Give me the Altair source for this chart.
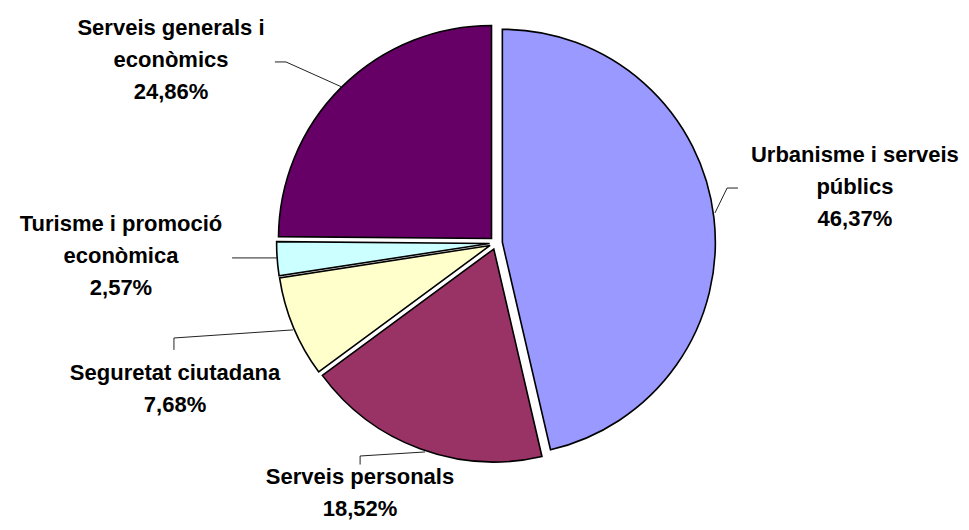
import math
import altair as alt
import pandas as pd

# ---------------- data ----------------
categories = [
    "Urbanisme i serveis públics",
    "Serveis personals",
    "Seguretat ciutadana",
    "Turisme i promoció econòmica",
    "Serveis generals i econòmics",
]
label_names = [
    "Urbanisme i serveis\npúblics",
    "Serveis personals",
    "Seguretat ciutadana",
    "Turisme i promoció\neconòmica",
    "Serveis generals i\neconòmics",
]
shares = [46.37, 18.52, 7.68, 2.57, 24.86]
colors = ["#9999FF", "#993366", "#FFFFCC", "#CCFFFF", "#660066"]

# ---------------- layout (units of pie radius, origin = pie centre, y up) ----------------
W, H = 953, 514          # plot size in px
R = 213                  # pie radius in px
CX, CY = 488, 235        # pie centre in px inside the plot
EXPLODE = 0.03           # slice explosion, in radius units
label_u = [1.685, -0.6385, -1.507, -1.7606, -1.5258]
label_v = [0.3803, -1.1315, -0.6432, 0.0563, 0.9765]
leader_u = [
    [1.136, 1.085, 1.028],
    [-0.638, -0.638, -0.333],
    [-1.512, -1.512, -0.953],
    [-1.239, -1.028],
    [-1.038, -0.986, -0.723],
]
leader_v = [
    [0.258, 0.258, 0.141],
    [-1.040, -1.0, -0.981],
    [-0.502, -0.446, -0.408],
    [-0.070, -0.070],
    [0.850, 0.850, 0.732],
]

df = pd.DataFrame({
    "category": categories,
    "name": label_names,
    "value": shares,
    "order": list(range(len(categories))),
    "lu": label_u,
    "lv": label_v,
})

rows = []
for c, us, vs in zip(categories, leader_u, leader_v):
    for i, (u, v) in enumerate(zip(us, vs)):
        rows.append({"category": c, "i": i, "u": u, "v": v})
leaders = pd.DataFrame(rows)

xs = alt.Scale(domain=[-CX / R, (W - CX) / R], nice=False, zero=False)
ys = alt.Scale(domain=[-(H - CY) / R, CY / R], nice=False, zero=False)
color_scale = alt.Scale(domain=categories, range=colors)
FONT = "Liberation Sans"

base = alt.Chart(df).transform_window(
    t1="sum(value)", sort=[alt.SortField("order")], frame=[None, 0]
).transform_calculate(
    t0="datum.t1 - datum.value",
    mid="PI * (datum.t0 + datum.t1) / 100",
    ux=f"{EXPLODE} * sin(datum.mid)",
    uy=f"{EXPLODE} * cos(datum.mid)",
)

pie = base.mark_arc(radius=R, stroke="#000000", strokeWidth=1.6).encode(
    x=alt.X("ux:Q", scale=xs, axis=None),
    y=alt.Y("uy:Q", scale=ys, axis=None),
    theta=alt.Theta("t0:Q", scale=alt.Scale(domain=[0, 100], range=[0, 2 * math.pi]), stack=False),
    theta2="t1:Q",
    color=alt.Color("category:N", scale=color_scale, legend=None),
)

lines = alt.Chart(leaders).mark_line(color="#222222", strokeWidth=1).encode(
    x=alt.X("u:Q", scale=xs, axis=None),
    y=alt.Y("v:Q", scale=ys, axis=None),
    detail="category:N",
    order="i:Q",
)

labels = alt.Chart(df).transform_calculate(
    label="datum.name + '\\n' + replace(format(datum.value, '.2f'), '.', ',') + '%'"
).mark_text(
    font=FONT, fontSize=22, fontWeight="bold", color="#000000",
    align="center", baseline="alphabetic", lineBreak="\n", lineHeight=32,
).encode(
    x=alt.X("lu:Q", scale=xs, axis=None),
    y=alt.Y("lv:Q", scale=ys, axis=None),
    text="label:N",
)

chart = alt.layer(pie, lines, labels).properties(
    width=W, height=H, padding=0, autosize=alt.AutoSizeParams(type="none"),
    background="#FFFFFF",
).configure_view(stroke=None)

chart.save("out.html", embed_options={"renderer": "svg", "actions": False})
